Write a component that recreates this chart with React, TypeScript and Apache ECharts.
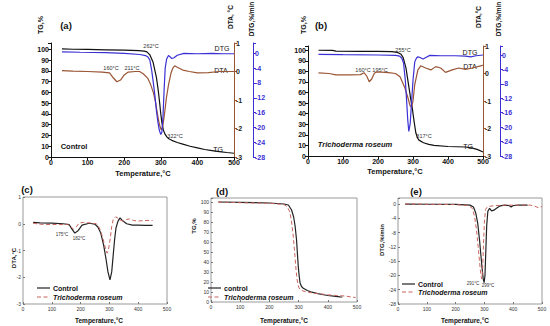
import React, { useEffect, useRef } from 'react';
import * as echarts from 'echarts';

// ---------- (a) Control: TG / DTA / DTG ----------
const aTgT = [30, 60, 100, 150, 200, 240, 255, 262, 270, 279, 288, 293, 297, 300, 303, 307, 312, 317, 322, 330, 345, 360, 380, 400, 420, 440, 460, 480, 500];
const aTgV = [100.5, 100.2, 100, 99.7, 99.4, 99, 98.5, 97.8, 95, 88, 74, 62, 50, 40, 32, 25, 21, 18.5, 17, 15.5, 13.5, 12, 10, 8.5, 7, 6, 5, 4.2, 3.5];
const aDtaT = [30, 60, 100, 140, 160, 170, 180, 190, 200, 211, 230, 242, 252, 264, 272, 280, 286, 291, 296, 301, 305, 310, 315, 321, 328, 333, 338, 345, 360, 378, 400, 430, 460, 500];
const aDtaV = [0.03, 0.01, 0.0, -0.02, -0.05, -0.22, -0.36, -0.3, -0.12, -0.02, 0.0, 0.0, -0.08, -0.23, -0.45, -0.75, -1.1, -1.5, -1.85, -2.05, -1.95, -1.5, -0.95, -0.47, -0.05, 0.12, 0.2, 0.15, 0.05, 0.0, -0.05, -0.04, 0.0, 0.0];
const aDtgT = [30, 80, 150, 200, 243, 258, 265, 270, 275, 279, 284, 288, 292, 296, 300, 303, 306, 309, 312, 316, 321, 326, 330, 336, 345, 363, 400, 440, 470, 500];
const aDtgV = [0.4, 0.3, 0.2, 0.0, -0.3, -0.6, -1.0, -1.8, -4.5, -7.5, -11.5, -15.5, -18.5, -20.8, -21.9, -21.3, -17, -10, -4, -1.5, -0.6, -1.0, -1.4, -1.2, -0.5, 0.0, -0.1, 0.0, -0.1, -0.1];

// ---------- (b) Trichoderma roseum: TG / DTA / DTG ----------
const bTgT = [30, 70, 80, 150, 200, 240, 255, 265, 272, 280, 287, 293, 298, 303, 308, 313, 317, 330, 345, 360, 400, 450, 470, 485, 500];
const bTgV = [100, 99.8, 99.2, 99, 98.9, 98.6, 98, 96.5, 93, 83, 68, 55, 45, 33, 22, 17, 15, 12.5, 11, 10, 9, 8.5, 7.5, 6, 3.8];
const bDtaT = [30, 60, 80, 120, 150, 160, 168, 175, 182, 190, 195, 210, 230, 250, 263, 277, 286, 291, 296, 300, 305, 314, 322, 336, 351, 365, 379, 393, 412, 431, 450, 470, 493, 500];
const bDtaV = [0.02, 0.0, -0.05, -0.05, -0.04, 0.03, -0.1, -0.3, -0.2, 0.02, 0.05, 0.05, 0.03, 0.0, -0.12, -0.53, -0.9, -1.15, -1.24, -1.0, -0.4, 0.13, 0.28, 0.2, 0.13, 0.25, 0.2, 0.04, 0.13, 0.2, 0.15, 0.2, 0.28, 0.3];
const bDtgT = [30, 100, 200, 250, 262, 268, 273, 278, 282, 285, 288, 292, 296, 300, 305, 310, 314, 320, 329, 338, 348, 380, 420, 450, 465, 480, 500];
const bDtgV = [0.2, 0.1, 0.0, -0.1, -0.3, -0.9, -2.2, -7, -13, -18, -21.2, -19, -13, -7, -1.9, -0.8, -0.5, -0.7, -1.1, -0.6, -0.1, -0.2, -0.2, -0.3, -0.5, -0.2, 0.0];

// ---------- (c) DTA comparison ----------
const cCtrlT = [35, 60, 100, 140, 160, 170, 180, 192, 205, 230, 250, 260, 270, 280, 288, 295, 302, 308, 313, 318, 323, 330, 337, 345, 360, 380, 400, 425, 450];
const cCtrlV = [0.05, 0.03, 0.02, 0.0, -0.03, -0.2, -0.35, -0.25, -0.05, 0.02, -0.02, -0.12, -0.35, -0.8, -1.3, -1.8, -2.1, -1.8, -1.2, -0.6, -0.15, 0.1, 0.22, 0.12, 0.0, -0.05, -0.05, -0.06, -0.06];
const cTrT = [35, 60, 100, 140, 155, 165, 175, 185, 195, 210, 240, 255, 265, 272, 280, 287, 292, 297, 303, 308, 313, 322, 330, 340, 350, 360, 370, 385, 400, 420, 450];
const cTrV = [0.02, -0.02, -0.03, -0.03, -0.02, -0.1, -0.2, -0.12, 0.03, 0.05, 0.02, 0.0, -0.15, -0.35, -0.65, -0.95, -1.1, -0.95, -0.55, -0.1, 0.15, 0.26, 0.2, 0.12, 0.1, 0.16, 0.18, 0.12, 0.1, 0.12, 0.12];

// ---------- (d) TG comparison ----------
const dCtrlT = [25, 100, 200, 250, 265, 276, 283, 288, 293, 296, 299, 302, 305, 310, 316, 330, 345, 362, 380, 400, 420, 442, 450];
const dCtrlV = [100, 99.6, 99, 98, 97, 92, 85, 76, 62, 48, 35, 26, 19, 15.5, 13.7, 11.5, 9.8, 8.7, 7.5, 6.5, 5.8, 5.2, 5];
const dTrT = [25, 100, 200, 250, 262, 270, 276, 282, 287, 291, 295, 300, 305, 315, 330, 350, 380, 400, 430, 460, 480, 495];
const dTrV = [100, 99.3, 98.8, 97.5, 95, 90, 80, 65, 48, 33, 22, 15, 12.5, 11, 10, 9, 8, 7.2, 6.5, 6, 5, 4.5];

// ---------- (e) DTG comparison ----------
const eCtrlT = [25, 100, 200, 250, 262, 270, 277, 283, 288, 292, 296, 299, 302, 305, 308, 312, 318, 325, 333, 342, 355, 371, 385, 393, 400, 420, 450];
const eCtrlV = [0, -0.05, -0.1, -0.3, -0.8, -2.5, -5.5, -10, -14.5, -18, -21, -22, -20, -13, -6, -2, -1.2, -1.9, -1.7, -1.2, -0.5, -0.3, -0.4, -0.8, -0.4, -0.3, -0.3];
const eTrT = [25, 100, 200, 245, 258, 266, 273, 279, 284, 288, 291, 294, 297, 300, 304, 310, 320, 340, 380, 420, 460, 475, 487, 500];
const eTrV = [0, -0.05, -0.15, -0.4, -1.2, -3.5, -7.5, -12.5, -17, -20, -21, -18, -11, -5, -1.5, -0.8, -0.6, -0.4, -0.3, -0.3, -0.3, -0.6, -1.0, -0.7];

const FONT = '"Liberation Sans", Arial, sans-serif';
const BLACK = '#111111';
const BROWN = '#9a5535';
const BLUE = '#3b30d4';
const DASH = '#c8645c';
const SOLID = '#222222';

const zip = (t: number[], v: number[]) => t.map((x, i) => [x, v[i]]);

const txt = (text: string, x: number, y: number, size: number, o: any = {}) => ({
  type: 'text',
  x,
  y,
  rotation: o.rot ? Math.PI / 2 : 0,
  silent: true,
  style: {
    text,
    fontSize: size,
    fontWeight: o.w || 'normal',
    fontStyle: o.s || 'normal',
    fontFamily: FONT,
    fill: o.c || BLACK,
    align: o.a || 'center',
    verticalAlign: 'middle',
    textAlign: o.a || 'center',
    textVerticalAlign: 'middle',
  },
});

const seg = (x1: number, y: number, x2: number, color: string, dashed: boolean, width: number) => ({
  type: 'line',
  silent: true,
  shape: { x1, y1: y, x2, y2: y },
  style: { stroke: color, lineWidth: width, lineDash: dashed ? [4, 2.5] : null },
});

// legend key drawn as a short sample line plus its label
const key = (x: number, y: number, label: string, color: string, dashed: boolean, width: number) => [
  seg(x, y, x + 13, color, dashed, width),
  txt(label, x + 16, y, 7, { w: 'bold', a: 'left', s: label === 'Trichoderma roseum' ? 'italic' : 'normal' }),
];

const topX = (gi: number) => ({
  type: 'value', gridIndex: gi, min: 0, max: 500, interval: 100,
  axisLine: { show: true, onZero: false, lineStyle: { color: BLACK, width: 1 } },
  axisTick: { show: true, length: 3, lineStyle: { color: BLACK } },
  axisLabel: { fontSize: 7, fontWeight: 'bold', color: BLACK, margin: 2, fontFamily: FONT },
  splitLine: { show: false },
});
const botX = (gi: number) => ({
  type: 'value', gridIndex: gi, min: 0, max: 500, interval: 100,
  axisLine: { show: false, onZero: false },
  axisTick: { show: true, inside: true, length: 2, lineStyle: { color: '#777' } },
  axisLabel: { fontSize: 5, color: '#333', margin: 2, fontFamily: FONT },
  splitLine: { show: false },
});
const yAx = (gi: number, min: number, max: number, interval: number, color: string, labelColor: string, position: string, offset: number, limit: number, size: number, bold: boolean, box: boolean) => ({
  type: 'value', gridIndex: gi, min, max, interval, position, offset,
  axisLine: { show: !box, onZero: false, lineStyle: { color, width: 1 } },
  axisTick: { show: true, inside: box, length: box ? 2 : 3, lineStyle: { color: box ? '#777' : color } },
  axisLabel: {
    fontSize: size, fontWeight: bold ? 'bold' : 'normal', color: labelColor, margin: 2, fontFamily: FONT,
    formatter: (v: number) => (v > limit + 0.001 ? '' : String(Math.round(v))),
  },
  splitLine: { show: false },
});

const line = (name: string, xi: number, yi: number, data: number[][], color: string, dashed = false, width = 1.2) => ({
  type: 'line', name, xAxisIndex: xi, yAxisIndex: yi, data,
  symbol: 'none', showSymbol: false, silent: true, smooth: false,
  color,
  lineStyle: { color, width, type: dashed ? [4, 2.5] : 'solid' },
  itemStyle: { color },
});

export default function App() {
  const ref = useRef<HTMLDivElement>(null);
  useEffect(() => {
    const chart = echarts.init(ref.current!, null, { renderer: 'svg' });
    const boxGrid = { show: true, borderColor: '#999', borderWidth: 1, backgroundColor: 'transparent' };
    const option: any = {
      animation: false,
      backgroundColor: '#fff',
      textStyle: { fontFamily: FONT },
      grid: [
        { left: 51, top: 43, width: 183, height: 114 },
        { left: 308, top: 46, width: 175, height: 110 },
        { left: 23, top: 197, width: 144, height: 107, ...boxGrid },
        { left: 211, top: 198, width: 146, height: 104, ...boxGrid },
        { left: 398, top: 198, width: 144, height: 106, ...boxGrid },
      ],
      xAxis: [topX(0), topX(1), botX(2), botX(3), botX(4)],
      yAxis: [
        yAx(0, 0, 106, 10, BLACK, BLACK, 'left', 0, 100, 7, true, false),
        yAx(0, -3, 1, 1, BROWN, '#222', 'right', 0, 1, 7, true, false),
        yAx(0, -28, 2.8, 4, BLUE, BLUE, 'right', 19, 0, 7, true, false),
        yAx(1, 0, 104, 10, BLACK, BLACK, 'left', 0, 100, 7, true, false),
        yAx(1, -3, 1, 1, BROWN, '#222', 'right', 0, 1, 7, true, false),
        yAx(1, -28, 2.5, 4, BLUE, BLUE, 'right', 17, 0, 7, true, false),
        yAx(2, -3, 1, 1, '#777', '#333', 'left', 0, 1, 5, false, true),
        yAx(3, 0, 104, 10, '#777', '#333', 'left', 0, 100, 5, false, true),
        yAx(4, -28, 1.7, 4, '#777', '#333', 'left', 0, 0, 5, false, true),
      ],
      series: [
        line('TG a', 0, 0, zip(aTgT, aTgV), BLACK),
        line('DTA a', 0, 1, zip(aDtaT, aDtaV), BROWN),
        line('DTG a', 0, 2, zip(aDtgT, aDtgV), BLUE),
        line('TG b', 1, 3, zip(bTgT, bTgV), BLACK),
        line('DTA b', 1, 4, zip(bDtaT, bDtaV), BROWN),
        line('DTG b', 1, 5, zip(bDtgT, bDtgV), BLUE),
        line('Control', 2, 6, zip(cCtrlT, cCtrlV), SOLID),
        line('Trichoderma roseum', 2, 6, zip(cTrT, cTrV), DASH, true, 1),
        line('control', 3, 7, zip(dCtrlT, dCtrlV), SOLID),
        line('Trichoderma roseum', 3, 7, zip(dTrT, dTrV), DASH, true, 1),
        line('Control', 4, 8, zip(eCtrlT, eCtrlV), SOLID),
        line('Trichoderma roseum', 4, 8, zip(eTrT, eTrV), DASH, true, 1),
      ],
      graphic: [
        // (a)
        txt('(a)', 66, 25, 9.5, { w: 'bold' }),
        txt('TG,%', 40, 25, 7, { w: 'bold', rot: true }),
        txt('DTA, °C', 230, 17, 6.5, { w: 'bold', rot: true }),
        txt('DTG,%/min', 251, 19, 6.5, { w: 'bold', rot: true }),
        txt('262°C', 151, 46, 5.5, { c: '#333' }),
        txt('DTG', 222, 48, 7),
        txt('160°C', 111, 68, 5.5, { c: '#333' }),
        txt('211°C', 132, 68, 5.5, { c: '#333' }),
        txt('DTA', 221, 70, 7),
        txt('322°C', 175, 136, 5.5, { c: '#333' }),
        txt('Control', 74, 146, 7.5, { w: 'bold' }),
        txt('TG', 218, 149, 7),
        txt('Temperature,°C', 143, 173, 7.5, { w: 'bold' }),
        // (b)
        txt('(b)', 321, 25, 9.5, { w: 'bold' }),
        txt('TG,%', 303, 25, 7, { w: 'bold', rot: true }),
        txt('DTA,°C', 478, 17, 6.5, { w: 'bold', rot: true }),
        txt('DTG,%/min', 498, 19, 6.5, { w: 'bold', rot: true }),
        txt('255°C', 403, 50, 5.5, { c: '#333' }),
        txt('DTG', 470, 52, 7),
        txt('160°C', 363, 70, 5.5, { c: '#333' }),
        txt('195°C', 380, 70, 5.5, { c: '#333' }),
        txt('DTA', 470, 66, 7),
        txt('317°C', 424, 136, 5.5, { c: '#333' }),
        txt('Trichoderma roseum', 355, 144, 7.5, { w: 'bold', s: 'italic' }),
        txt('TG', 468, 146, 7),
        txt('Temperature,°C', 395, 171, 7.5, { w: 'bold' }),
        // (c)
        txt('(c)', 27, 189, 9.5, { w: 'bold' }),
        txt('DTA,°C', 14, 258, 6, { w: 'bold', rot: true }),
        txt('175°C', 62, 234, 4.5, { c: '#333' }),
        txt('182°C', 79, 238, 4.5, { c: '#333' }),
        txt('Temperature,°C', 99, 320, 6.5, { w: 'bold' }),
        ...key(37, 288, 'Control', SOLID, false, 1.2),
        ...key(37, 297, 'Trichoderma roseum', DASH, true, 1),
        // (d)
        txt('(d)', 222, 191, 9.5, { w: 'bold' }),
        txt('TG,%', 194, 226, 6, { w: 'bold', rot: true }),
        txt('Temperature,°C', 284, 320, 6.5, { w: 'bold' }),
        ...key(208, 288, 'control', SOLID, false, 1.2),
        ...key(208, 297, 'Trichoderma roseum', DASH, true, 1),
        // (e)
        txt('(e)', 416, 191, 9.5, { w: 'bold' }),
        txt('DTG,%/min', 382, 240, 6, { w: 'bold', rot: true }),
        txt('291°C', 473, 283, 4.5, { c: '#333' }),
        txt('299°C', 488, 285, 4.5, { c: '#333' }),
        txt('Temperature,°C', 465, 320, 6.5, { w: 'bold' }),
        ...key(402, 284, 'Control', SOLID, false, 1.2),
        ...key(402, 292, 'Trichoderma roseum', DASH, true, 1),
      ],
    };
    chart.setOption(option);
    return () => chart.dispose();
  }, []);
  return <div ref={ref} style={{ position: 'fixed', left: 0, top: 0, width: 550, height: 326, background: '#fff' }} />;
}
